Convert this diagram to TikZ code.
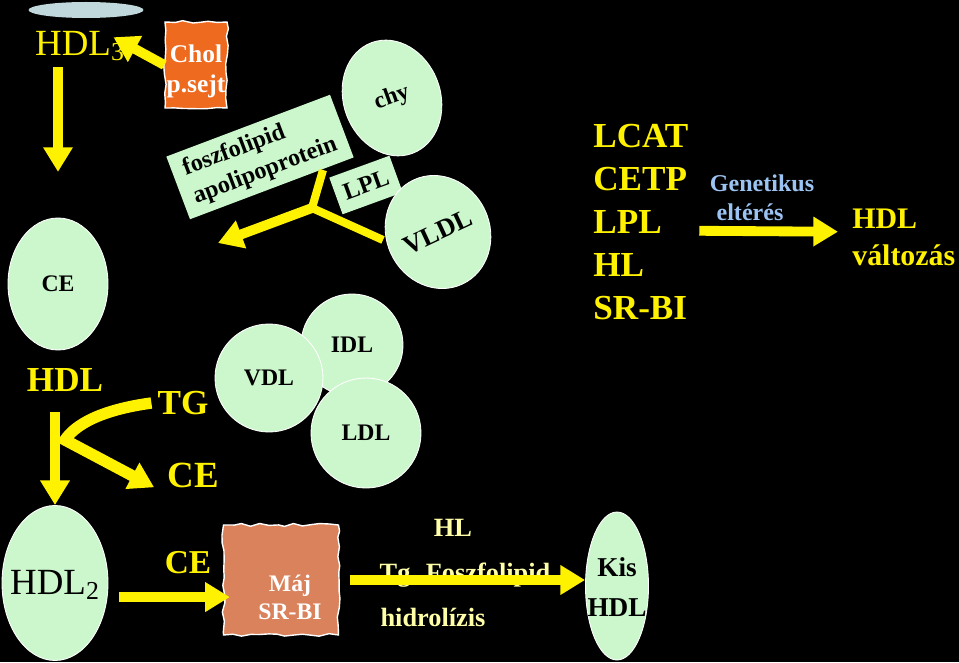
\documentclass[tikz,border=0pt]{standalone}
\usepackage{fontspec}
\setmainfont{Liberation Serif}
\usetikzlibrary{shapes.geometric,arrows.meta,decorations.pathmorphing}

\definecolor{lipgreen}{HTML}{CCF7CC}
\definecolor{capblue}{HTML}{C0D8DC}
\definecolor{cholorange}{HTML}{EE6A1F}
\definecolor{majbrown}{HTML}{D9825B}
\definecolor{paleyellow}{HTML}{FFFFA8}
\definecolor{genblue}{HTML}{9CC4F2}

\begin{document}
\pgfmathsetseed{11}
\begin{tikzpicture}[x=0.02cm, y=-0.02cm,
      particle/.style ={ellipse, fill=lipgreen, draw=white, line width=0.5pt, inner sep=0pt,
                        font=\bfseries\fontsize{13.5}{16}\selectfont},
      sheet/.style ={rectangle, fill=lipgreen, inner sep=0pt, align=left,
                     font=\bfseries\fontsize{13.8}{17}\selectfont},
      cell/.style ={rectangle, draw=white, line width=0.8pt, inner sep=0pt, decorate,
                    decoration={random steps, segment length=5pt, amplitude=0.9pt}},
      celltext/.style ={text=white, align=center, font=\bfseries\fontsize{13.5}{16}\selectfont},
      ytext/.style ={text=yellow, font=\bfseries\fontsize{20}{24}\selectfont},
      hltext/.style ={text=paleyellow, font=\bfseries\fontsize{15}{18}\selectfont},
      flow/.style ={draw=yellow, line width=5.6pt, -{Triangle[width=16pt,length=14pt]}}]

   \fill[black] (0,0) rectangle (959,662);
   \useasboundingbox (0,0) rectangle (959,662);

   % upper left
   \node[ellipse, fill=capblue, inner sep=0pt, minimum width=2.3cm, minimum height=0.32cm] (cap) at (86,10) {};
   \node[text=yellow, font=\fontsize{21}{24}\selectfont] (hdl3) at (80,46) {HDL\textsubscript{3}};
   \node[cell, fill=cholorange, minimum width=1.24cm, minimum height=1.72cm] (chol) at (196,65) {};
   \node[celltext, font=\bfseries\fontsize{14.5}{17}\selectfont] (choltxt) at (196,71) {Chol\\p.sejt};
   \node[particle, minimum width=2cm, minimum height=2.64cm] (ce) at (58,284) {CE};

   \draw[flow] (chol.west) to ([xshift=-10pt,yshift=5pt]hdl3.east);
   \draw[flow] (hdl3.south -| ce.north) to ([yshift=26pt]ce.north);

   % lipoproteins
   \node[sheet, rotate=20.7, minimum width=3.5cm, minimum height=1.34cm] (fosz) at (260,157) {foszfolipid\\apolipoprotein};
   \node[particle, rotate=20, minimum width=1.94cm, minimum height=2.36cm] (chy) at (392,98) {chy};
   \node[sheet, rotate=20, minimum width=1.28cm, minimum height=0.78cm, align=center] (lpl) at (366,185) {LPL};
   \node[particle, rotate=25, minimum width=1.94cm, minimum height=2.3cm, font=\bfseries\fontsize{15}{18}\selectfont] (vldl) at (438,232) {VLDL};

   \coordinate (forktop) at (323,170);
   \coordinate (fork) at (312,208);
   \coordinate (forkend) at (383,240);
   \coordinate (forktip) at (218,243);
   \draw[yellow, line width=4.6pt] (forktop) -- (fork) -- (forkend);
   \draw[flow] (fork) to (forktip);

   \node[particle, circle, minimum size=2.04cm] (idl) at (352,345) {IDL};
   \node[particle, circle, minimum size=2.16cm] (vdl) at (269,378) {VDL};
   \node[particle, circle, minimum size=2.2cm] (ldl) at (366,433) {LDL};

   % middle left
   \node[ytext] (hdl) at (65,380) {HDL};
   \node[ytext] (tg) at (183,403) {TG};
   \node[ytext, font=\bfseries\fontsize{21}{24}\selectfont] (ceout) at (193,475) {CE};
   \coordinate (bend) at (65,440);
   \draw[flow, line width=6.5pt] (tg.west) .. controls (100,410) and (75,425) .. (bend)
        -- ([xshift=-4pt,yshift=-7pt]ceout.west);

   % lower row
   \node[particle, minimum width=2.12cm, minimum height=3.1cm] (hdl2) at (55,583) {};
   \node[font=\fontsize{21}{24}\selectfont] (hdl2txt) at (55,585) {HDL\textsubscript{2}};
   \draw[flow] ([yshift=-8pt]hdl.south -| hdl2.north) to (hdl2.north);
   \node[ytext, font=\bfseries\fontsize{19}{22}\selectfont] (ce2) at (188,563) {CE};
   \node[cell, fill=majbrown, minimum width=2.3cm, minimum height=2.2cm] (maj) at (281,580) {};
   \node[celltext] (majtxt) at (290,597) {Máj\\SR-BI};
   \coordinate (cestart) at ([xshift=6pt,yshift=-8pt]hdl2.east);
   \coordinate (majin) at ([xshift=4pt]maj.west);
   \draw[flow] (cestart) to (majin |- cestart);

   \node[particle, minimum width=1.26cm, minimum height=2.96cm] (kis) at (617,586) {};
   \node[font=\bfseries\fontsize{15.5}{23}\selectfont, align=center] (kistxt) at (617,587) {Kis\\HDL};
   \node[hltext] (hl) at (453,528) {HL};
   \node[hltext] (tgf) at (465,575) {Tg. Foszfolipid};
   \node[hltext] (hidro) at (433,617) {hidrolízis};
   \draw[flow] ([xshift=6pt]maj.east) to (kis.west |- maj.east);

   % right
   \node[text=yellow, font=\bfseries\fontsize{20}{24.4}\selectfont, align=left, anchor=west, inner sep=0pt] (enz) at (593,222) {LCAT\\CETP\\LPL\\HL\\SR-BI};
   \node[text=genblue, font=\bfseries\fontsize{13.7}{16}\selectfont] (gen) at (762,183) {Genetikus};
   \node[text=genblue, font=\bfseries\fontsize{13.7}{16}\selectfont] (elt) at (750,212) {eltérés};
   \node[ytext, font=\bfseries\fontsize{17}{21}\selectfont, align=left, anchor=west, inner sep=0pt] (hdlv) at (852,237) {HDL\\változás};
   \draw[flow] ([xshift=6pt,yshift=-5pt]enz.east) to ([xshift=-8pt,yshift=3pt]hdlv.west);
 \end{tikzpicture}
\end{document}
